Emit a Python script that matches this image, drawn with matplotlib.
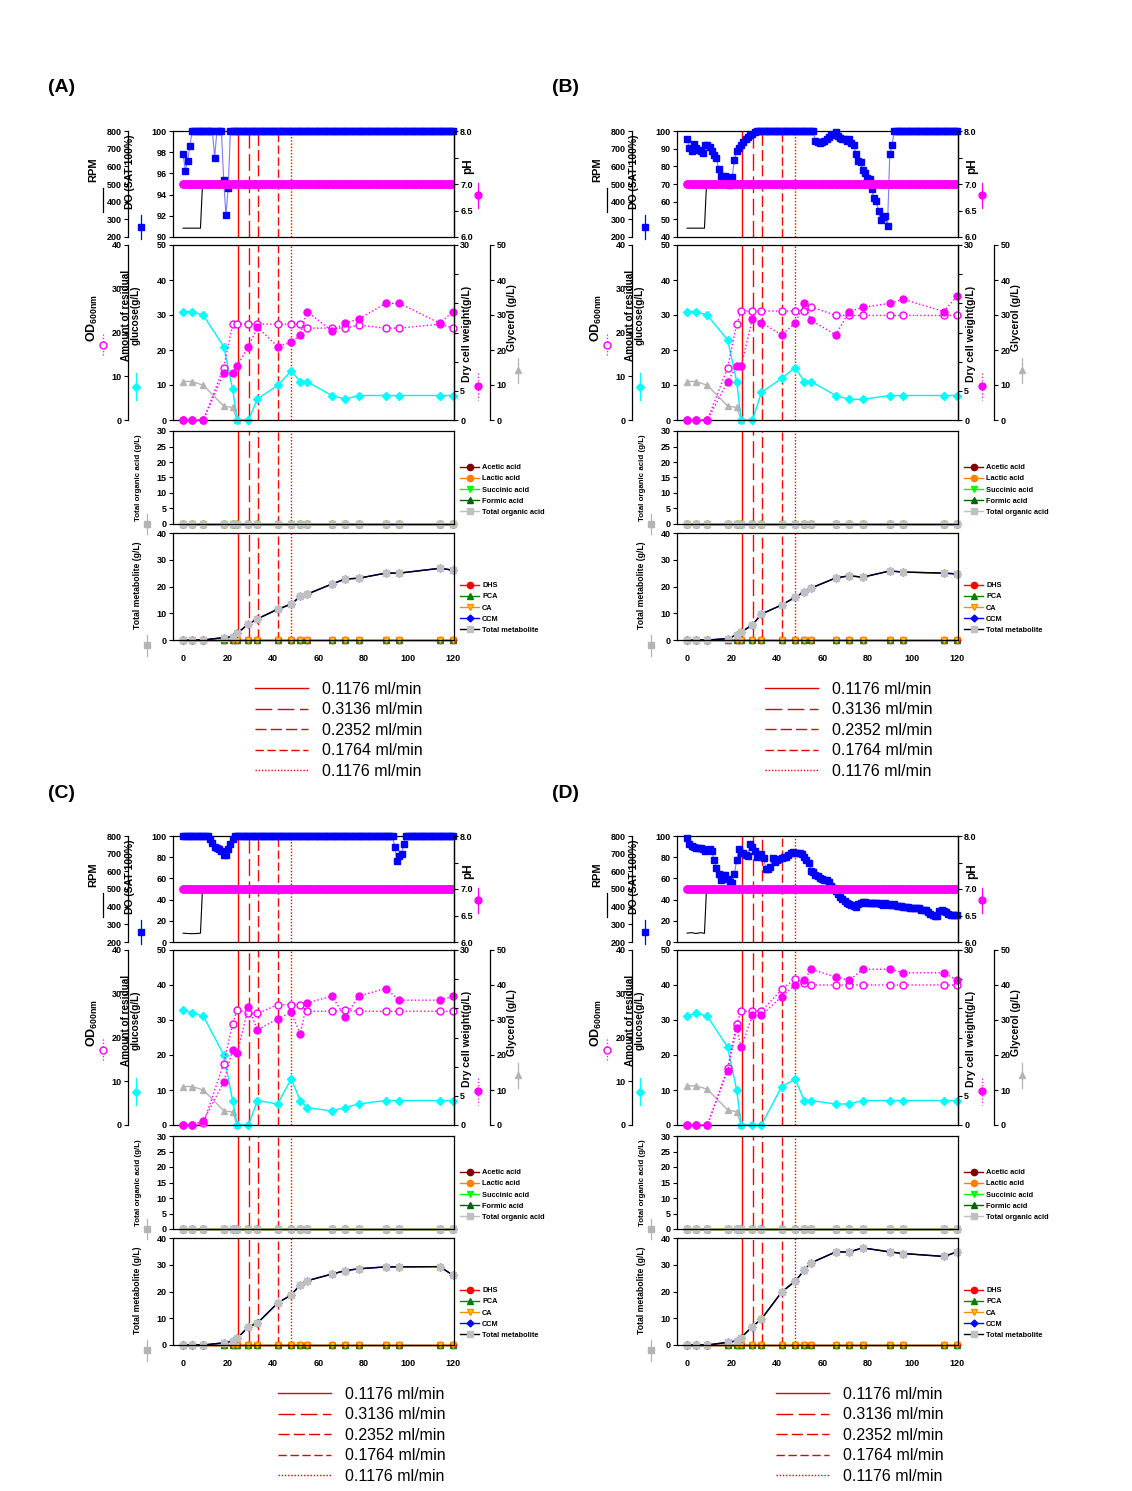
import numpy as np
import matplotlib
matplotlib.use('Agg')
import matplotlib.pyplot as plt
from matplotlib.lines import Line2D

plt.rcParams['font.family'] = ['Liberation Sans', 'DejaVu Sans']
plt.rcParams['font.weight'] = 'bold'
plt.rcParams['mathtext.fontset'] = 'custom'
plt.rcParams['mathtext.rm'] = 'Liberation Sans:bold'
plt.rcParams['mathtext.bf'] = 'Liberation Sans:bold'
plt.rcParams['mathtext.it'] = 'Liberation Sans:bold'
plt.rcParams['axes.linewidth'] = 0.9

W, H = 1132, 1491

# ---------------- data ----------------
# on-line log (hourly): DO (%), pH, agitation
do_hours = [0, 1, 2, 3, 4, 5, 6, 7, 8, 9, 10, 11, 12, 13, 14, 15, 16, 17, 18, 19,
            20, 21, 22, 23, 24, 25, 26, 27, 28, 29, 30, 31, 32, 33, 34, 35, 36, 37, 38, 39,
            40, 41, 42, 43, 44, 45, 46, 47, 48, 49, 50, 51, 52, 53, 54, 55, 56, 57, 58, 59,
            60, 61, 62, 63, 64, 65, 66, 67, 68, 69, 70, 71, 72, 73, 74, 75, 76, 77, 78, 79,
            80, 81, 82, 83, 84, 85, 86, 87, 88, 89, 90, 91, 92, 93, 94, 95, 96, 97, 98, 99,
            100, 101, 102, 103, 104, 105, 106, 107, 108, 109, 110, 111, 112, 113, 114, 115,
            116, 117, 118, 119, 120]

do_a = [97.8, 96.2, 97.2, 98.6, 100, 100, 100, 100, 100, 100,
        100, 100, 100, 100, 97.5, 100, 100, 100, 95.4, 92.1,
        94.6, 100, 100, 100, 100, 100, 100, 100, 100, 100,
        100, 100, 100, 100, 100, 100, 100, 100, 100, 100,
        100, 100, 100, 100, 100, 100, 100, 100, 100, 100,
        100, 100, 100, 100, 100, 100, 100, 100, 100, 100,
        100, 100, 100, 100, 100, 100, 100, 100, 100, 100,
        100, 100, 100, 100, 100, 100, 100, 100, 100, 100,
        100, 100, 100, 100, 100, 100, 100, 100, 100, 100,
        100, 100, 100, 100, 100, 100, 100, 100, 100, 100,
        100, 100, 100, 100, 100, 100, 100, 100, 100, 100,
        100, 100, 100, 100, 100, 100, 100, 100, 100, 100,
        100]

do_b = [95.6, 90.4, 88.9, 92.7, 90.4, 89.5, 88.5, 87.6, 92.2, 92.2,
        90.8, 88.5, 86.5, 84.5, 78.3, 74.5, 74.1, 74.5, 72.6, 69.7,
        74.1, 83.7, 88.9, 90.2, 92.2, 93.7, 95.2, 96.5, 97.5, 98.5,
        99.4, 100, 100, 100, 100, 100, 100, 100, 100, 100,
        100, 100, 100, 100, 100, 100, 100, 100, 100, 100,
        100, 100, 100, 100, 100, 100, 100, 94.1, 93.7, 93.3,
        93.7, 94.4, 95.6, 96.5, 97.5, 98.1, 99.4, 97.1, 96.0, 95.2,
        95.6, 94.6, 95.6, 93.3, 91.8, 87.0, 83.1, 82.2, 77.9, 76.4,
        73.5, 72.6, 67.0, 62.0, 60.1, 54.9, 49.9, 51.5, 51.9, 46.2,
        87.0, 91.9, 100, 100, 100, 100, 100, 100, 100, 100,
        100, 100, 100, 100, 100, 100, 100, 100, 100, 100,
        100, 100, 100, 100, 100, 100, 100, 100, 100, 100,
        100]

do_c = [100, 100, 100, 100, 100, 100, 100, 100, 100, 100,
        100, 100, 96.8, 93.7, 89.5, 88.3, 87.3, 85.7, 82.5, 82.5,
        87.3, 92.1, 96.8, 100, 100, 100, 100, 100, 100, 100,
        100, 100, 100, 100, 100, 100, 100, 100, 100, 100,
        100, 100, 100, 100, 100, 100, 100, 100, 100, 100,
        100, 100, 100, 100, 100, 100, 100, 100, 100, 100,
        100, 100, 100, 100, 100, 100, 100, 100, 100, 100,
        100, 100, 100, 100, 100, 100, 100, 100, 100, 100,
        100, 100, 100, 100, 100, 100, 100, 100, 100, 100,
        100, 100, 100, 100, 89.5, 76.2, 81.0, 83.2, 92.1, 100,
        100, 100, 100, 100, 100, 100, 100, 100, 100, 100,
        100, 100, 100, 100, 100, 100, 100, 100, 100, 100,
        100]

do_d = [98.4, 92.0, 90.3, 89.4, 88.7, 88.7, 88.4, 88.1, 85.5, 87.1,
        88.1, 85.5, 77.4, 69.4, 64.5, 58.1, 63.5, 63.5, 59.0, 57.0,
        55.8, 64.5, 77.4, 88.1, 83.9, 83.9, 82.5, 81.6, 92.6, 89.4,
        86.1, 80.6, 82.3, 82.9, 79.0, 68.7, 68.7, 71.0, 79.0, 75.8,
        77.4, 78.5, 79.0, 80.0, 80.6, 82.3, 83.9, 84.5, 83.9, 83.9,
        83.9, 82.9, 80.6, 77.4, 74.2, 66.8, 66.1, 63.5, 62.3, 60.3,
        59.7, 58.9, 58.1, 56.5, 53.2, 50.6, 48.4, 45.2, 42.9, 40.3,
        38.7, 37.1, 35.5, 34.5, 33.9, 33.2, 35.5, 37.1, 37.7, 37.7,
        37.1, 37.1, 37.1, 37.1, 36.5, 36.5, 35.5, 34.5, 36.5, 35.5,
        34.5, 34.5, 35.5, 33.9, 33.9, 33.5, 33.2, 33.2, 32.9, 32.3,
        32.3, 32.3, 32.3, 32.3, 30.6, 30.0, 30.0, 28.1, 26.8, 25.8,
        24.8, 24.8, 29.0, 30.6, 29.0, 28.1, 26.8, 25.8, 25.8, 25.8,
        25.8]

ph_all = [7.0, 7.0, 7.0, 7.0, 7.0, 7.0, 7.0, 7.0, 7.0, 7.0,
          7.0, 7.0, 7.0, 7.0, 7.0, 7.0, 7.0, 7.0, 7.0, 7.0,
          7.0, 7.0, 7.0, 7.0, 7.0, 7.0, 7.0, 7.0, 7.0, 7.0,
          7.0, 7.0, 7.0, 7.0, 7.0, 7.0, 7.0, 7.0, 7.0, 7.0,
          7.0, 7.0, 7.0, 7.0, 7.0, 7.0, 7.0, 7.0, 7.0, 7.0,
          7.0, 7.0, 7.0, 7.0, 7.0, 7.0, 7.0, 7.0, 7.0, 7.0,
          7.0, 7.0, 7.0, 7.0, 7.0, 7.0, 7.0, 7.0, 7.0, 7.0,
          7.0, 7.0, 7.0, 7.0, 7.0, 7.0, 7.0, 7.0, 7.0, 7.0,
          7.0, 7.0, 7.0, 7.0, 7.0, 7.0, 7.0, 7.0, 7.0, 7.0,
          7.0, 7.0, 7.0, 7.0, 7.0, 7.0, 7.0, 7.0, 7.0, 7.0,
          7.0, 7.0, 7.0, 7.0, 7.0, 7.0, 7.0, 7.0, 7.0, 7.0,
          7.0, 7.0, 7.0, 7.0, 7.0, 7.0, 7.0, 7.0, 7.0, 7.0,
          7.0]

rpm_hours = [0, 2, 4, 6, 7.7, 8.6, 120]
rpm_a = [250, 250, 250, 250, 250, 500, 500]
rpm_b = [250, 250, 250, 250, 250, 500, 500]
rpm_c = [250, 248, 247, 248, 250, 500, 500]
rpm_d = [250, 253, 248, 253, 249, 500, 500]

# off-line samples
sample_hours = [0, 4, 9, 18, 22, 24, 29, 33, 42, 48, 52, 55, 66, 72, 78, 90, 96, 114, 120]
glycerol_hours = [0, 4, 9, 18, 22, 24]

glucose_a = [31.0, 31.0, 29.9, 21.0, 8.8, 0, 0, 6.0, 9.9, 14.0, 11.0, 11.0, 7.0, 6.0, 7.0, 7.0, 7.0, 7.0, 7.0]
glucose_b = [31.0, 31.0, 29.9, 22.9, 11.0, 0, 0, 7.9, 11.9, 15.0, 11.0, 11.0, 7.0, 5.9, 5.9, 7.0, 7.0, 7.0, 7.0]
glucose_c = [33.0, 32.0, 31.1, 20.1, 7.0, 0, 0, 7.0, 6.0, 13.2, 7.0, 5.0, 4.0, 5.0, 6.0, 7.0, 7.0, 7.0, 7.0]
glucose_d = [31.1, 32.0, 31.1, 22.2, 10.0, 0, 0, 0, 11.0, 13.1, 7.0, 7.0, 6.0, 6.0, 7.0, 7.0, 7.0, 7.0, 7.0]

glycerol_a = [11.0, 11.0, 9.9, 4.0, 3.6, 0]
glycerol_b = [11.0, 11.0, 9.9, 4.0, 3.6, 0]
glycerol_c = [11.0, 11.0, 10.0, 4.1, 3.7, 0]
glycerol_d = [11.2, 11.2, 10.2, 4.3, 3.8, 0]

dcw_a = [0, 0, 0, 8.0, 8.0, 9.3, 12.6, 15.9, 12.6, 13.3, 14.6, 18.6, 15.3, 16.6, 17.3, 20.0, 20.0, 16.6, 18.6]
dcw_b = [0, 0, 0, 6.6, 9.3, 9.3, 17.3, 16.7, 14.6, 16.6, 20.0, 17.1, 14.6, 18.6, 19.3, 20.0, 20.7, 18.6, 21.3]
dcw_c = [0, 0, 0.75, 7.3, 12.9, 12.3, 20.2, 16.3, 18.2, 19.3, 15.6, 20.9, 22.1, 18.6, 22.1, 23.4, 21.4, 21.4, 22.1]
dcw_d = [0, 0, 0, 9.3, 16.6, 13.3, 18.8, 18.8, 22.0, 24.0, 24.8, 26.7, 25.4, 24.8, 26.7, 26.7, 26.1, 26.1, 24.8]

od_a = [0, 0, 0, 12.0, 21.9, 21.9, 21.9, 21.9, 21.9, 21.9, 21.9, 21.0, 21.0, 21.0, 21.7, 21.0, 21.0, 21.9, 21.0]
od_b = [0, 0, 0, 12.0, 21.9, 24.9, 24.9, 24.9, 24.9, 24.9, 24.9, 25.9, 23.9, 23.9, 23.9, 23.9, 23.9, 23.9, 23.9]
od_c = [0, 0, 0.4, 14.0, 23.1, 26.4, 25.5, 25.5, 27.5, 27.5, 27.5, 26.0, 26.0, 26.2, 26.0, 26.0, 26.0, 26.0, 26.0]
od_d = [0, 0, 0, 13.0, 23.2, 26.0, 26.0, 26.0, 31.0, 33.4, 32.4, 32.0, 32.0, 32.0, 32.0, 32.0, 32.0, 32.0, 32.0]

# organic acids and minor metabolites were all at 0 g/L
acid_zero = [0, 0, 0, 0, 0, 0, 0, 0, 0, 0, 0, 0, 0, 0, 0, 0, 0, 0, 0]
acid_names = ['Acetic acid', 'Lactic acid', 'Succinic acid', 'Formic acid', 'Total organic acid']

total_met_a = [0, 0, 0, 0.9, 1.25, 2.5, 6.0, 7.9, 11.5, 13.4, 16.3, 17.1, 20.9, 22.8, 23.1, 25.0, 25.0, 26.8, 26.1]
total_met_b = [0, 0, 0, 0.5, 1.9, 3.0, 5.6, 9.7, 13.1, 16.0, 18.0, 19.4, 23.2, 24.0, 23.5, 25.8, 25.4, 25.0, 24.7]
total_met_c = [0, 0, 0, 0.8, 1.5, 2.5, 6.8, 8.2, 15.7, 18.7, 22.5, 24.0, 26.5, 27.8, 28.5, 29.2, 29.2, 29.3, 26.0]
total_met_d = [0, 0, 0, 1.0, 1.6, 2.8, 6.9, 9.7, 19.8, 23.9, 27.9, 30.7, 34.8, 34.8, 36.3, 34.8, 34.2, 33.1, 34.8]
met_names = ['DHS', 'PCA', 'CA', 'CCM', 'Total metabolite']

# feeding-rate changes
feed_hours = [24.3, 29.2, 33.3, 42.3, 48.1]
feed_labels = ['0.1176 ml/min', '0.3136 ml/min', '0.2352 ml/min', '0.1764 ml/min', '0.1176 ml/min']

# ---------------- layout ----------------
feed_styles = ['-', (0, (12, 4)), (0, (8, 3)), (0, (6, 2.6)), (0, (1, 1.3))]
XLIM = (-4.5, 120.3)

panels = [
    dict(letter='(A)', dx=0, dy=0, do=do_a, do_lim=(90, 100), do_ticks=[90, 92, 94, 96, 98, 100],
         rpm=rpm_a, glucose=glucose_a, glycerol=glycerol_a, dcw=dcw_a, od=od_a, met=total_met_a, leg_x=255),
    dict(letter='(B)', dx=504, dy=0, do=do_b, do_lim=(40, 100), do_ticks=[40, 50, 60, 70, 80, 90, 100],
         rpm=rpm_b, glucose=glucose_b, glycerol=glycerol_b, dcw=dcw_b, od=od_b, met=total_met_b, leg_x=765),
    dict(letter='(C)', dx=0, dy=705, do=do_c, do_lim=(0, 100), do_ticks=[0, 20, 40, 60, 80, 100],
         rpm=rpm_c, glucose=glucose_c, glycerol=glycerol_c, dcw=dcw_c, od=od_c, met=total_met_c, leg_x=278),
    dict(letter='(D)', dx=504, dy=705, do=do_d, do_lim=(0, 100), do_ticks=[0, 20, 40, 60, 80, 100],
         rpm=rpm_d, glucose=glucose_d, glycerol=glycerol_d, dcw=dcw_d, od=od_d, met=total_met_d, leg_x=776),
]

fig = plt.figure(figsize=(W / 100, H / 100), dpi=100)


def px_rect(x0, y0, x1, y1):
    return [x0 / W, 1 - y1 / H, (x1 - x0) / W, (y1 - y0) / H]


def tidy(ax):
    ax.tick_params(labelsize=6.5, length=3, width=0.8, direction='out', pad=1.5)


def feed_lines(ax):
    for t, st in zip(feed_hours, feed_styles):
        ax.axvline(t, color='#ff0000', lw=1, ls=st, zorder=1)


def hide_x(ax):
    ax.set_xlim(*XLIM)
    ax.tick_params(axis='x', bottom=False, labelbottom=False)


# overlay in pixel coordinates for the axis titles and their symbols
ov = fig.add_axes([0, 0, 1, 1], zorder=10)
ov.set_xlim(0, W)
ov.set_ylim(H, 0)
ov.axis('off')


def vtext(x, y, s, size):
    ov.text(x, y, s, rotation=90, ha='center', va='center', fontsize=size,
            fontweight='bold', linespacing=1.0)


def glyph(x, y0, y1, ym, color, marker, ls='-', mfc=None, ms=4.5):
    ov.plot([x, x], [y0, y1], color=color, lw=0.9, ls=ls)
    if marker:
        ov.plot([x], [ym], marker=marker, ms=ms, color=color,
                mfc=mfc if mfc else color, mec=color)


for p in panels:
    dx, dy = p['dx'], p['dy']
    L, R = 173 + dx, 454 + dx

    # ---- DO / RPM / pH ----
    ax1 = fig.add_axes(px_rect(L, 131 + dy, R, 237 + dy))
    ax_rpm = ax1.twinx()
    ax_ph = ax1.twinx()
    feed_lines(ax1)
    ax1.plot(do_hours, p['do'], color='#7b7bff', lw=0.8, marker='s', ms=4.2,
             mfc='#0000ff', mec='#0000ff', clip_on=False, zorder=3)
    hide_x(ax1)
    ax1.set_ylim(*p['do_lim'])
    ax1.set_yticks(p['do_ticks'])
    tidy(ax1)

    ax_rpm.plot(rpm_hours, p['rpm'], color='black', lw=0.8)
    ax_rpm.set_ylim(200, 800)
    ax_rpm.set_yticks(np.arange(200, 801, 100))
    ax_rpm.yaxis.tick_left()
    ax_rpm.spines['left'].set_position(('outward', 32.4))
    for s in ('right', 'top', 'bottom'):
        ax_rpm.spines[s].set_visible(False)
    tidy(ax_rpm)

    ax_ph.plot(do_hours, ph_all, color='#ff00ff', lw=1, marker='o', ms=5.3,
               mfc='#ff00ff', mec='#ff00ff')
    ax_ph.set_ylim(6, 8)
    ax_ph.set_yticks([6, 6.5, 7, 7.5, 8])
    ax_ph.set_yticklabels(['6.0', '6.5', '7.0', '', '8.0'])
    for s in ('left', 'top', 'bottom'):
        ax_ph.spines[s].set_visible(False)
    tidy(ax_ph)

    # ---- glucose / OD / DCW / glycerol ----
    ax2 = fig.add_axes(px_rect(L, 245 + dy, R, 420 + dy))
    ax_od = ax2.twinx()
    ax_dcw = ax2.twinx()
    ax_gly = ax2.twinx()
    feed_lines(ax2)
    # glycerol shares the 0-50 g/L scale of the glucose axis
    ax2.plot(glycerol_hours, p['glycerol'], color='#b4b4b4', lw=1, marker='^', ms=5,
             mfc='#b4b4b4', mec='#b4b4b4', clip_on=False)
    ax2.plot(sample_hours, p['glucose'], color='#00f0f0', lw=1, marker='D', ms=4.5,
             mfc='#00ffff', mec='#00ffff', clip_on=False)
    hide_x(ax2)
    ax2.set_ylim(0, 50)
    ax2.set_yticks(np.arange(0, 51, 10))
    tidy(ax2)

    ax_od.plot(sample_hours, p['od'], color='#ff00ff', lw=1, ls=':', marker='o', ms=5,
               mfc='white', mec='#ff00ff', clip_on=False)
    ax_od.set_ylim(0, 40)
    ax_od.set_yticks(np.arange(0, 41, 10))
    ax_od.yaxis.tick_left()
    ax_od.spines['left'].set_position(('outward', 32.4))
    for s in ('right', 'top', 'bottom'):
        ax_od.spines[s].set_visible(False)
    tidy(ax_od)

    ax_dcw.plot(sample_hours, p['dcw'], color='#ff00ff', lw=1, ls=':', marker='o', ms=5,
                mfc='#ff00ff', mec='#ff00ff', clip_on=False)
    ax_dcw.set_ylim(0, 30)
    ax_dcw.set_yticks(np.arange(0, 31, 5))
    ax_dcw.set_yticklabels(['0', '5', '', '', '', '', '30'])
    for s in ('left', 'top', 'bottom'):
        ax_dcw.spines[s].set_visible(False)
    tidy(ax_dcw)

    ax_gly.set_ylim(0, 50)
    ax_gly.set_yticks(np.arange(0, 51, 10))
    ax_gly.spines['right'].set_position(('outward', 26))
    for s in ('left', 'top', 'bottom'):
        ax_gly.spines[s].set_visible(False)
    tidy(ax_gly)

    # ---- organic acids ----
    ax3 = fig.add_axes(px_rect(L, 431 + dy, R, 524 + dy))
    feed_lines(ax3)
    acid_styles = [('#800000', 'o', '#800000'), ('#ff8000', 'o', '#ff8000'),
                   ('#00ff00', 'v', '#00ff00'), ('#006400', '^', '#006400'),
                   ('#c0c0c0', 's', '#c0c0c0')]
    for name, (col, mk, fc) in zip(acid_names, acid_styles):
        ax3.plot(sample_hours, acid_zero, color=col, lw=1, marker=mk, ms=4.5,
                 mfc=fc, mec=col, clip_on=False, label=name)
    hide_x(ax3)
    ax3.set_ylim(0, 30)
    ax3.set_yticks(np.arange(0, 31, 5))
    tidy(ax3)
    h3, l3 = ax3.get_legend_handles_labels()
    fig.legend(h3, l3, loc='upper left', bbox_to_anchor=((460 + dx) / W, 1 - (464 + dy) / H),
               fontsize=5.3, frameon=False, handlelength=2.6, labelspacing=0.55,
               borderpad=0, borderaxespad=0, handletextpad=0.4)

    # ---- metabolites ----
    ax4 = fig.add_axes(px_rect(L, 533 + dy, R, 640 + dy))
    feed_lines(ax4)
    met_styles = [('#ff0000', 'o', '#ff0000', '#ff0000', 4.5),
                  ('#008000', '^', '#008000', '#008000', 4.5),
                  ('#ff8c00', 'v', '#ffd000', '#ff8c00', 4.5),
                  ('#0000ff', 'D', '#0000ff', '#0000ff', 3.5),
                  ('#000000', 's', '#c0c0c0', '#c0c0c0', 4.5)]
    met_series = [acid_zero, acid_zero, acid_zero, p['met'], p['met']]
    for name, vals, (col, mk, fc, ec, ms) in zip(met_names, met_series, met_styles):
        ax4.plot(sample_hours, vals, color=col, lw=1, marker=mk, ms=ms,
                 mfc=fc, mec=ec, clip_on=False, label=name)
    ax4.set_xlim(*XLIM)
    ax4.set_xticks(np.arange(0, 121, 20))
    ax4.set_ylim(0, 40)
    ax4.set_yticks(np.arange(0, 41, 10))
    tidy(ax4)
    ax4.tick_params(axis='x', length=0, pad=10)
    h4, l4 = ax4.get_legend_handles_labels()
    fig.legend(h4, l4, loc='upper left', bbox_to_anchor=((460 + dx) / W, 1 - (582 + dy) / H),
               fontsize=5.3, frameon=False, handlelength=2.6, labelspacing=0.55,
               borderpad=0, borderaxespad=0, handletextpad=0.4)

    # ---- feeding-rate legend ----
    hf = [Line2D([], [], color='#e00000', lw=1, ls=st) for st in feed_styles]
    fig.legend(hf, feed_labels, loc='upper left',
               bbox_to_anchor=(p['leg_x'] / W, 1 - (682 + dy) / H),
               prop={'size': 11.5, 'weight': 'normal'}, frameon=False,
               handlelength=3.3, labelspacing=0.34, borderpad=0, borderaxespad=0,
               handletextpad=0.9)

    # ---- axis titles and symbols ----
    ov.text(48 + dx, 88 + dy, p['letter'], fontsize=14, fontweight='bold',
            ha='left', va='center')
    vtext(93 + dx, 170 + dy, 'RPM', 8)
    glyph(103 + dx, 188 + dy, 212 + dy, None, 'black', None)
    vtext(130 + dx, 172 + dy, 'DO (SAT 100%)', 7.5)
    glyph(141 + dx, 215 + dy, 239 + dy, 227 + dy, '#0000ff', 's', ms=4.5)
    vtext(468 + dx, 166 + dy, 'pH', 8.5)
    glyph(478 + dx, 183 + dy, 208 + dy, 195 + dy, '#ff00ff', 'o', ms=5)

    vtext(92 + dx, 318 + dy, r'OD$_{600nm}$', 9)
    glyph(103 + dx, 334 + dy, 357 + dy, 345 + dy, '#ff00ff', 'o', ls=':', mfc='white', ms=5)
    vtext(131 + dx, 315 + dy, 'Amount of residual\nglucose(g/L)', 7.2)
    glyph(136 + dx, 373 + dy, 400 + dy, 387 + dy, '#00ffff', 'D', ms=4.5)
    vtext(467 + dx, 334 + dy, 'Dry cell weight(g/L)', 7.5)
    glyph(478 + dx, 373 + dy, 400 + dy, 386 + dy, '#ff00ff', 'o', ls=':', ms=5)
    vtext(512 + dx, 318 + dy, 'Glycerol (g/L)', 7.5)
    glyph(518 + dx, 358 + dy, 383 + dy, 370 + dy, '#b4b4b4', '^', ms=5)

    vtext(138 + dx, 478 + dy, 'Total organic acid (g/L)', 5.7)
    glyph(147 + dx, 514 + dy, 534 + dy, 524 + dy, '#b4b4b4', 's', ms=4.5)
    vtext(137 + dx, 585 + dy, 'Total metabolite (g/L)', 6.2)
    glyph(147 + dx, 635 + dy, 656 + dy, 645 + dy, '#b4b4b4', 's', ms=4.5)

fig.savefig('out.png', dpi=100)
